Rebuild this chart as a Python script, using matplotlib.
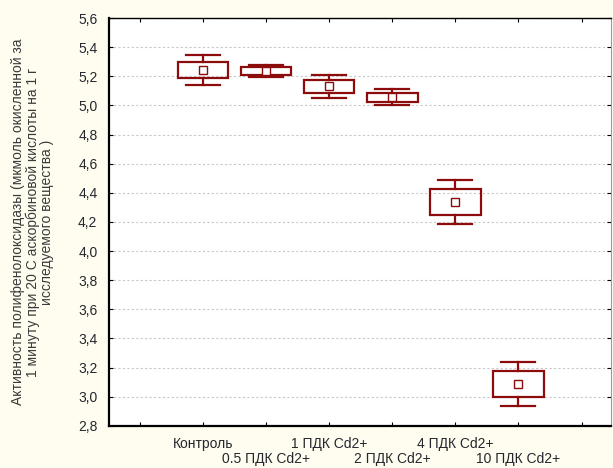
import matplotlib
matplotlib.use("Agg")
import matplotlib.pyplot as plt
from matplotlib.patches import Rectangle
from matplotlib.transforms import offset_copy

plt.rcParams["font.family"] = ["Liberation Sans", "DejaVu Sans"]

groups = ["Контроль", "0.5 ПДК Cd2+", "1 ПДК Cd2+", "2 ПДК Cd2+", "4 ПДК Cd2+", "10 ПДК Cd2+"]
means = [5.243, 5.236, 5.130, 5.056, 4.338, 3.088]
box_half = [0.055, 0.026, 0.042, 0.031, 0.089, 0.091]      # box = mean ± SE
whisker_half = [0.100, 0.043, 0.076, 0.056, 0.152, 0.152]  # whiskers = mean ± SD
y_ticks = [2.8, 3.0, 3.2, 3.4, 3.6, 3.8, 4.0, 4.2, 4.4, 4.6, 4.8, 5.0, 5.2, 5.4, 5.6]

RED = "#8c0c0c"
BG = "#fffdf0"
TXT = "#26262e"

fig = plt.figure(figsize=(6.13, 4.68), dpi=100, facecolor=BG)
ax = fig.add_axes([0.177, 0.090, 0.820, 0.8715])
ax.set_facecolor("white")

for i, (m, b, w) in enumerate(zip(means, box_half, whisker_half), start=1):
    ax.add_patch(Rectangle((i - 0.4, m - b), 0.8, 2 * b, fill=False,
                           edgecolor=RED, lw=1.6, zorder=3))
    ax.plot([i, i], [m + b, m + w], color=RED, lw=1.6, zorder=3)
    ax.plot([i, i], [m - b, m - w], color=RED, lw=1.6, zorder=3)
    ax.plot([i - 0.27, i + 0.27], [m + w, m + w], color=RED, lw=1.6, zorder=3)
    ax.plot([i - 0.27, i + 0.27], [m - w, m - w], color=RED, lw=1.6, zorder=3)
    ax.plot(i, m, marker="s", ms=6, mfc="white", mec=RED, mew=1.0, zorder=4)

ax.set_xlim(-0.5, 7.47)
ax.set_ylim(2.8, 5.6)
ax.set_yticks(y_ticks)
ax.set_yticklabels([f"{v:.1f}".replace(".", ",") for v in y_ticks], fontsize=10, color=TXT)
ax.yaxis.grid(True, color="#c8c8c8", ls=(0, (2, 2)), lw=0.8)
ax.set_axisbelow(True)

# first row of category labels as tick labels, second row as text below
top_row = [""] + [g if k % 2 == 0 else "" for k, g in enumerate(groups)] + [""]
ax.set_xticks(range(8))
ax.set_xticklabels(top_row, fontsize=10, color=TXT)
row2 = offset_copy(ax.get_xaxis_transform(), fig=fig, y=-27.0, units="points")
for k, g in enumerate(groups):
    if k % 2 == 1:
        ax.text(k + 1, 0, g, transform=row2, ha="center", va="baseline",
                fontsize=10, color=TXT)

ax.tick_params(axis="x", direction="in", length=3, pad=8, top=True)
ax.tick_params(axis="y", direction="in", length=3, pad=8, right=True)

for side in ("left", "bottom"):
    ax.spines[side].set_linewidth(1.6)
ax.spines["top"].set_linewidth(1.0)
ax.spines["right"].set_color("#9a9a9a")

ax.set_ylabel("Активность полифенолоксидазы (мкмоль окисленной за\n"
              "1 минуту при 20 С аскорбиновой кислоты на 1 г\n"
              "исследуемого вещества )", fontsize=10, color="#3a3a3a",
              linespacing=1.05, labelpad=17)

fig.savefig("out.png", dpi=100, facecolor=BG)
